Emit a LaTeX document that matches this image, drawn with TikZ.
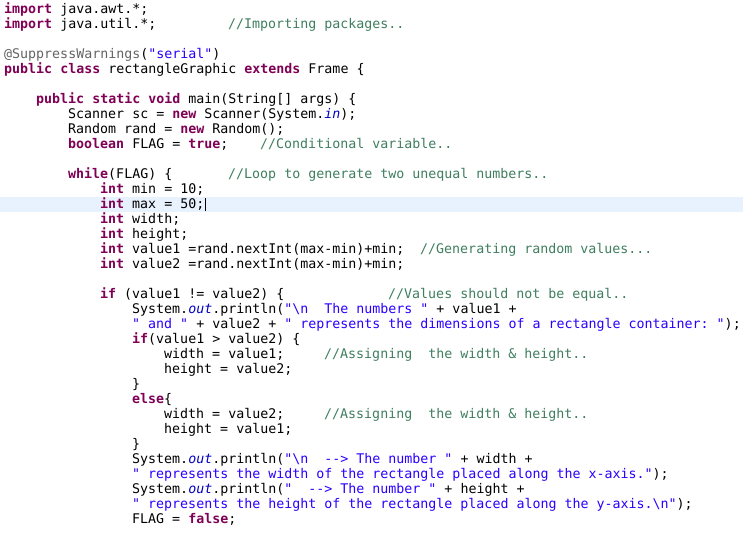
\documentclass[tikz,border=0pt]{standalone}
\usepackage{fontspec}
\setmonofont{DejaVu Sans Mono}
\definecolor{kwc}{HTML}{7F0055}
\definecolor{stc}{HTML}{2A00FF}
\definecolor{cmc}{HTML}{3F7F5F}
\definecolor{anc}{HTML}{646464}
\definecolor{fdc}{HTML}{0000C0}
\definecolor{hlc}{HTML}{E8F2FE}
\newcommand\Kw[1]{{\bfseries\color{kwc}#1}}
\newcommand\St[1]{{\color{stc}#1}}
\newcommand\Cm[1]{{\color{cmc}#1}}
\newcommand\An[1]{{\color{anc}#1}}
\newcommand\Fd[1]{{\itshape\color{fdc}#1}}
\newcommand\bs{\textbackslash}
\newcommand\Ln[4]{\node[code] (#1) at ({4+8*#3},{-(13+15*(#2-1))}) {#4};}
\begin{document}
\begin{tikzpicture}[x=1pt,y=1pt,
  code/.style={anchor=base west,inner sep=0pt,font=\ttfamily\fontsize{13.3}{15}\selectfont}]
\useasboundingbox (0,0) rectangle (743,-539);
\fill[white] (0,0) rectangle (743,-539);
\fill[hlc] (0,-196.5) rectangle (743,-211.5);
\Ln{l1}{1}{0}{\Kw{import} java.awt.*;}
\Ln{l2}{2}{0}{\Kw{import} java.util.*;}
\Ln{c2}{2}{28}{\Cm{//Importing packages..}}
\Ln{l4}{4}{0}{\An{@SuppressWarnings}(\St{"serial"})}
\Ln{l5}{5}{0}{\Kw{public} \Kw{class} rectangleGraphic \Kw{extends} Frame \{}
\Ln{l7}{7}{4}{\Kw{public} \Kw{static} \Kw{void} main(String[] args) \{}
\Ln{l8}{8}{8}{Scanner sc = \Kw{new} Scanner(System.\Fd{in});}
\Ln{l9}{9}{8}{Random rand = \Kw{new} Random();}
\Ln{l10}{10}{8}{\Kw{boolean} FLAG = \Kw{true};}
\Ln{c10}{10}{32}{\Cm{//Conditional variable..}}
\Ln{l12}{12}{8}{\Kw{while}(FLAG) \{}
\Ln{c12}{12}{28}{\Cm{//Loop to generate two unequal numbers..}}
\Ln{l13}{13}{12}{\Kw{int} min = 10;}
\Ln{l14}{14}{12}{\Kw{int} max = 50;}
\Ln{l15}{15}{12}{\Kw{int} width;}
\Ln{l16}{16}{12}{\Kw{int} height;}
\Ln{l17}{17}{12}{\Kw{int} value1 =rand.nextInt(max-min)+min;}
\Ln{c17}{17}{52}{\Cm{//Generating random values...}}
\Ln{l18}{18}{12}{\Kw{int} value2 =rand.nextInt(max-min)+min;}
\Ln{l20}{20}{12}{\Kw{if} (value1 != value2) \{}
\Ln{c20}{20}{48}{\Cm{//Values should not be equal..}}
\Ln{l21}{21}{16}{System.\Fd{out}.println(\St{"\bs n\ \ The numbers "} + value1 +}
\Ln{l22}{22}{16}{\St{" and "} + value2 + \St{" represents the dimensions of a rectangle container: "});}
\Ln{l23}{23}{16}{\Kw{if}(value1 > value2) \{}
\Ln{l24}{24}{20}{width = value1;}
\Ln{c24}{24}{40}{\Cm{//Assigning\ \ the width \& height..}}
\Ln{l25}{25}{20}{height = value2;}
\Ln{l26}{26}{16}{\}}
\Ln{l27}{27}{16}{\Kw{else}\{}
\Ln{l28}{28}{20}{width = value2;}
\Ln{c28}{28}{40}{\Cm{//Assigning\ \ the width \& height..}}
\Ln{l29}{29}{20}{height = value1;}
\Ln{l30}{30}{16}{\}}
\Ln{l31}{31}{16}{System.\Fd{out}.println(\St{"\bs n\ \ --> The number "} + width +}
\Ln{l32}{32}{16}{\St{" represents the width of the rectangle placed along the x-axis."});}
\Ln{l33}{33}{16}{System.\Fd{out}.println(\St{"\ \ --> The number "} + height +}
\Ln{l34}{34}{16}{\St{" represents the height of the rectangle placed along the y-axis.\bs n"});}
\Ln{l35}{35}{16}{FLAG = \Kw{false};}
\draw[line width=1pt] ([xshift=1pt]l14.east |- 0,-198) -- ([xshift=1pt]l14.east |- 0,-211);
\end{tikzpicture}
\end{document}
